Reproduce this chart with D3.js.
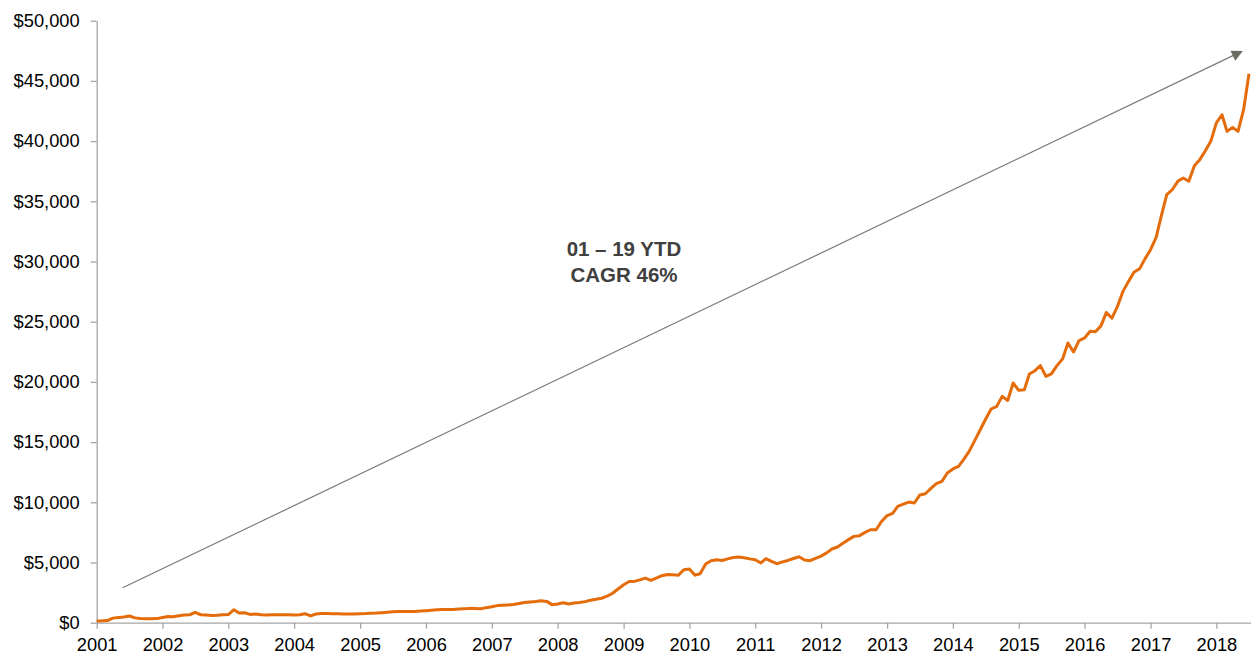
<!DOCTYPE html>
<html>
<head>
<meta charset="utf-8">
<script src="https://cdn.jsdelivr.net/npm/d3@7"></script>
<style>
  body { margin: 0; background: #fff; }
  svg { display: block; font-family: "Liberation Sans", Arial, sans-serif; }
</style>
</head>
<body>
<script>
// monthly values, first point is Jan 2001
var firstMonth = new Date(2001, 0, 1);
var values = [
  150, 160, 180, 380, 430, 480, 560, 400, 340, 330, 330, 340,            // 2001
  430, 520, 500, 570, 640, 660, 850, 660, 630, 600, 620, 660,            // 2002
  680, 1080, 800, 830, 690, 720, 660, 640, 650, 660, 660, 650,           // 2003
  640, 660, 750, 560, 720, 760, 760, 750, 750, 730, 720, 730,            // 2004
  750, 760, 780, 800, 830, 870, 900, 940, 940, 940, 940, 970,            // 2005
  1000, 1040, 1080, 1100, 1100, 1100, 1130, 1160, 1190, 1180, 1160, 1250, // 2006
  1330, 1420, 1450, 1480, 1510, 1590, 1680, 1720, 1770, 1830, 1770, 1500, // 2007
  1560, 1660, 1550, 1640, 1680, 1750, 1860, 1950, 2030, 2200, 2450, 2800, // 2008
  3150, 3420, 3430, 3560, 3700, 3510, 3700, 3900, 4000, 3980, 3950, 4400, // 2009
  4460, 3950, 4070, 4870, 5150, 5220, 5170, 5300, 5420, 5460, 5400, 5300, // 2010
  5230, 4960, 5320, 5100, 4900, 5050, 5170, 5330, 5480, 5210, 5150, 5350, // 2011
  5530, 5800, 6120, 6290, 6600, 6900, 7170, 7230, 7500, 7720, 7720, 8410, // 2012
  8890, 9080, 9660, 9850, 10020, 9940, 10600, 10710, 11150, 11550, 11740, 12430, // 2013
  12770, 12980, 13540, 14230, 15100, 16000, 16900, 17750, 17970, 18800, 18460, 19910, // 2014
  19300, 19350, 20660, 20930, 21350, 20460, 20660, 21350, 21900, 23230, 22480, 23420, // 2015
  23650, 24200, 24170, 24650, 25770, 25290, 26250, 27520, 28350, 29100, 29390, 30220, // 2016
  30980, 32000, 33750, 35550, 35960, 36660, 36940, 36660, 37960, 38460, 39200, 39980, // 2017
  41510, 42190, 40810, 41140, 40810, 42610, 45600                         // 2018
];
var yearTicks = [2001, 2002, 2003, 2004, 2005, 2006, 2007, 2008, 2009, 2010,
                 2011, 2012, 2013, 2014, 2015, 2016, 2017, 2018];
var valueTicks = [0, 5000, 10000, 15000, 20000, 25000, 30000, 35000, 40000, 45000, 50000];

// growth arrow, in data terms: [date, value]
var arrowFrom = [new Date(2001, 4, 25), 2900];
var arrowTo = [new Date(2018, 4, 22), 47450];
var noteLines = ["01 \u2013 19 YTD", "CAGR 46%"];

var width = 1251, height = 655;
var margin = {top: 20.7, right: 0, bottom: 32.3, left: 96.7};

var svg = d3.select("body").append("svg")
    .attr("width", width)
    .attr("height", height);

var x = d3.scaleTime()
    .domain([firstMonth, new Date(2018, 6, 12)])
    .range([margin.left, width - margin.right]);

var y = d3.scaleLinear()
    .domain([0, 50000])
    .range([height - margin.bottom, margin.top]);

var data = values.map(function(v, i) {
    return {date: new Date(2001, i, 1), value: v};
});

var fmt = d3.format("$,");

// y axis
var yAxis = svg.append("g")
    .attr("transform", "translate(" + margin.left + ",0)")
    .call(d3.axisLeft(y).tickValues(valueTicks).tickFormat(fmt).tickSize(6).tickPadding(11).tickSizeOuter(0));

// x axis
var xAxis = svg.append("g")
    .attr("transform", "translate(0," + y(0) + ")")
    .call(d3.axisBottom(x)
        .tickValues(yearTicks.map(function(yr) { return new Date(yr, 0, 1); }))
        .tickFormat(d3.timeFormat("%Y"))
        .tickSize(6).tickPadding(9).tickSizeOuter(0));

svg.selectAll(".domain, .tick line")
    .attr("stroke", "#a6a6a6")
    .attr("stroke-width", 1.3);
svg.selectAll(".tick text")
    .attr("fill", "#000")
    .style("font-size", "18.3px");

// arrow
var defs = svg.append("defs");
defs.append("marker")
    .attr("id", "head")
    .attr("viewBox", "0 0 10 10")
    .attr("refX", 9)
    .attr("refY", 5)
    .attr("markerUnits", "userSpaceOnUse")
    .attr("markerWidth", 14)
    .attr("markerHeight", 11)
    .attr("orient", "auto")
  .append("path")
    .attr("d", "M0,0 L10,5 L0,10 Z")
    .attr("fill", "#6b6d63");

svg.append("line")
    .attr("x1", x(arrowFrom[0]))
    .attr("y1", y(arrowFrom[1]))
    .attr("x2", x(arrowTo[0]))
    .attr("y2", y(arrowTo[1]))
    .attr("stroke", "#7a7b72")
    .attr("stroke-width", 1.2)
    .attr("marker-end", "url(#head)");

// series
var line = d3.line()
    .x(function(d) { return x(d.date); })
    .y(function(d) { return y(d.value); });

svg.append("path")
    .datum(data)
    .attr("fill", "none")
    .attr("stroke", "#e46c0a")
    .attr("stroke-width", 3)
    .attr("stroke-linejoin", "round")
    .attr("d", line);

// note
svg.append("text")
    .attr("x", 624)
    .attr("y", 256)
    .attr("text-anchor", "middle")
    .attr("fill", "#404040")
    .style("font-size", "20.5px")
    .style("font-weight", "bold")
  .selectAll("tspan")
    .data(noteLines)
    .enter().append("tspan")
    .attr("x", 624)
    .attr("dy", function(d, i) { return i ? 25.7 : 0; })
    .text(function(d) { return d; });
</script>
</body>
</html>
